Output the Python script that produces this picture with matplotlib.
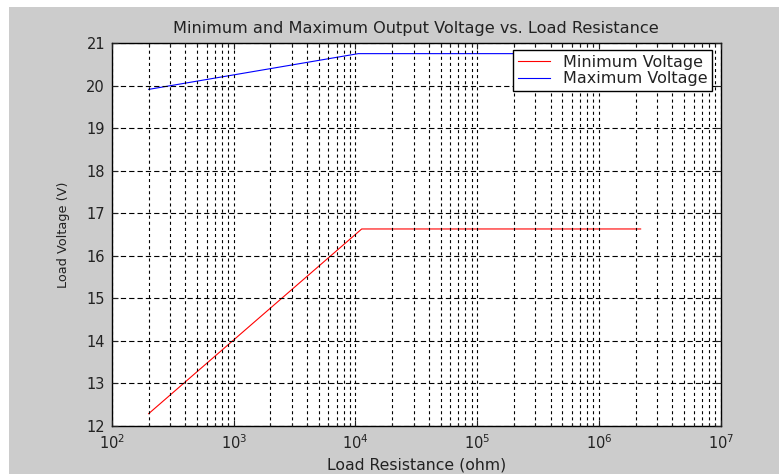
import numpy as np
import matplotlib.pyplot as plt
from matplotlib.patches import Rectangle
from matplotlib.ticker import LogLocator, NullFormatter

# data
r_min = [200, 1.125e4, 2.2e6]
v_min = [12.29, 16.63, 16.63]
r_max = [200, 1.055e4, 2.2e6]
v_max = [19.91, 20.75, 20.75]

plt.rcParams['font.family'] = ['DejaVu Sans']
plt.rcParams['mathtext.fontset'] = 'dejavusans'
plt.rcParams['lines.scale_dashes'] = False

fig = plt.figure(figsize=(7.79, 4.74), dpi=100, facecolor='white')
# grey window background with the thin white strip at top/left
fig.patches.append(Rectangle((9 / 779, 0), 1, (474 - 7) / 474, transform=fig.transFigure,
                             facecolor='#cccccc', edgecolor='none', zorder=-10))

ax = fig.add_axes([112 / 779, 48 / 474, 608.7 / 779, 383 / 474])
ax.set_facecolor('white')

ax.plot(r_min, v_min, color='red', lw=0.8, label='Minimum Voltage')
ax.plot(r_max, v_max, color='blue', lw=0.8, label='Maximum Voltage')

ax.set_xscale('log')
ax.set_xlim(1e2, 1e7)
ax.set_ylim(12, 21)
ax.set_yticks(np.arange(12, 22, 1))
ax.xaxis.set_major_locator(LogLocator(base=10, numticks=10))
ax.xaxis.set_minor_locator(LogLocator(base=10, subs=np.arange(2, 10), numticks=20))
ax.xaxis.set_minor_formatter(NullFormatter())

ax.grid(True, which='major', axis='y', color='black', lw=0.8, linestyle=(0, (3.8, 2.2)))
ax.grid(True, which='both', axis='x', color='black', lw=0.8, linestyle=(0, (2.2, 2.2)))
ax.set_axisbelow(False)

ax.tick_params(which='both', direction='in', top=True, right=True, labelsize=10.5,
               colors='#222222', pad=5)
ax.tick_params(which='major', length=4, width=0.8)
ax.tick_params(which='minor', length=2, width=0.8)
for s in ax.spines.values():
    s.set_linewidth(1.0)
    s.set_color('black')

ax.set_title('Minimum and Maximum Output Voltage vs. Load Resistance',
             fontsize=11.6, pad=7, color='#222222')
ax.set_xlabel('Load Resistance (ohm)', fontsize=11.3, labelpad=4, color='#222222')
ax.set_ylabel('Load Voltage (V)', fontsize=9.3, labelpad=12, color='#222222')

leg = ax.legend(loc='upper right', bbox_to_anchor=(0.9857, 0.9817), borderaxespad=0,
                fancybox=False, framealpha=1, edgecolor='black', fontsize=11.5,
                handlelength=2.0, handletextpad=0.8, borderpad=0.3, labelspacing=0.1)
leg.get_frame().set_linewidth(1.0)
for t in leg.get_texts():
    t.set_color('#222222')

fig.savefig('out.png', dpi=100, facecolor=fig.get_facecolor())
